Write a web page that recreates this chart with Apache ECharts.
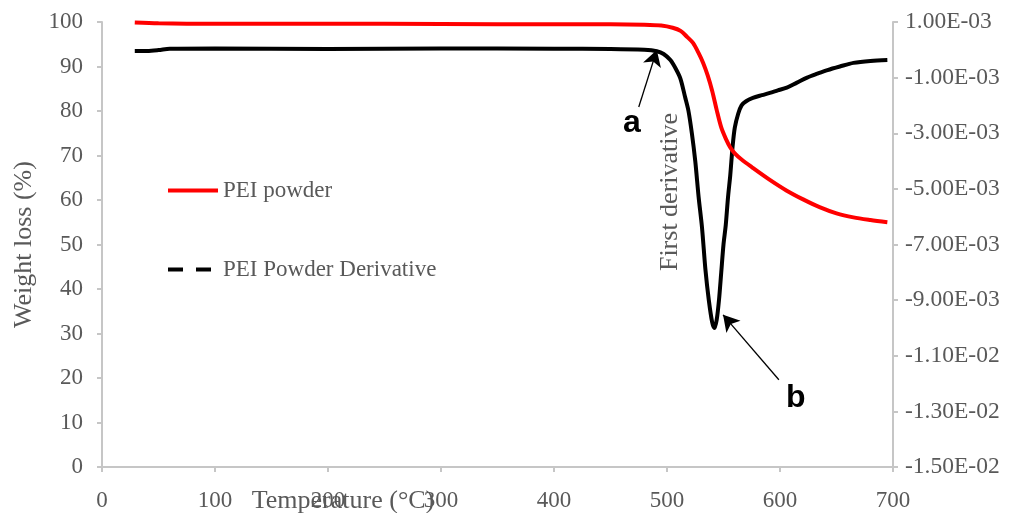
<!DOCTYPE html>
<html>
<head>
<meta charset="utf-8">
<script src="https://cdn.jsdelivr.net/npm/echarts@6/dist/echarts.min.js"></script>
<style>html,body{margin:0;padding:0;background:#fff}#c{width:1014px;height:513px}</style>
</head>
<body>
<div id="c"></div>
<script>
// Temperature (°C) samples for the weight-loss curve
const tempWeight = [29, 50, 100, 200, 300, 400, 450, 480, 495, 505, 512, 518, 523, 528, 532, 536, 540, 544, 548, 552, 556, 560, 566, 575, 590, 606, 620, 635, 650, 665, 680, 695];
// Weight loss (%) values
const weightPct = [99.9, 99.7, 99.6, 99.6, 99.55, 99.5, 99.5, 99.4, 99.2, 98.7, 98.0, 96.6, 95.3, 93.0, 90.8, 88.0, 84.5, 80.2, 76.3, 73.8, 71.8, 70.5, 69.1, 67.4, 64.7, 62.1, 60.2, 58.4, 57.0, 56.1, 55.5, 55.0];
// Temperature samples for the derivative curve
const tempDeriv = [29, 40, 50, 60, 100, 200, 300, 400, 450, 480, 491, 497, 503, 508, 512, 516, 519, 522, 525, 528, 531, 534, 537, 540, 542, 544, 546, 548, 550, 552, 554, 556, 558, 560, 563, 566, 570, 576, 584, 591, 598, 606, 615, 624, 633, 642, 653, 665, 680, 695];
// First derivative values
const derivVals = [-0.00004, -0.00004, -0.00001, 0.00004, 0.00005, 0.00003, 0.00005, 0.00004, 0.00003, 0.0, -0.00005, -0.00015, -0.00037, -0.0007, -0.00105, -0.0017, -0.0022, -0.0030, -0.0040, -0.0053, -0.0064, -0.0079, -0.0090, -0.0098, -0.0100, -0.0097, -0.0090, -0.0080, -0.0070, -0.0063, -0.0053, -0.0045, -0.0035, -0.0028, -0.0023, -0.0020, -0.00185, -0.00173, -0.00163, -0.00155, -0.00146, -0.00136, -0.00118, -0.00100, -0.00086, -0.00073, -0.0006, -0.00047, -0.0004, -0.00037];
const seriesNames = ['PEI powder', 'PEI Powder Derivative'];
// annotation arrows: [tailT, tailW, headT, headW] in weight-axis units
const arrowA = [475, 80.9, 491, 93.7];
const arrowB = [599, 19.6, 549.6, 34.2];
const labelA = [469, 77.3];
const labelB = [614, 15.5];

const serif = 'Liberation Serif';
const grey = '#595959';
const axisGrey = '#c6c6c6';

function sci(v) {
  const s = Number(v).toExponential(2);
  const parts = s.split('e');
  let exp = parseInt(parts[1], 10);
  const sign = exp < 0 ? '-' : '+';
  exp = Math.abs(exp);
  return parts[0] + 'E' + sign + (exp < 10 ? '0' + exp : '' + exp);
}

const chart = echarts.init(document.getElementById('c'));
chart.setOption({
  animation: false,
  backgroundColor: '#fff',
  grid: { left: 102, right: 121, top: 22, bottom: 46, containLabel: false },
  legend: {
    data: [
      { name: seriesNames[0], icon: 'rect' },
      { name: seriesNames[1], icon: 'path://M0,0h15v4h-15z M28,0h15v4h-15z M50,0v4' }
    ],
    orient: 'vertical',
    left: 163,
    top: 174,
    itemWidth: 50,
    itemHeight: 4,
    itemGap: 56,
    textStyle: { fontFamily: serif, fontSize: 23, color: grey, lineHeight: 20 }
  },
  xAxis: {
    type: 'value', min: 0, max: 700, interval: 100,
    axisLine: { lineStyle: { color: axisGrey, width: 2 } },
    axisTick: { show: true, length: 5, lineStyle: { color: axisGrey, width: 2 } },
    splitLine: { show: false },
    axisLabel: { fontFamily: serif, fontSize: 23, color: grey, margin: 22 }
  },
  yAxis: [
    {
      type: 'value', min: 0, max: 100, interval: 10, position: 'left',
      name: 'Weight loss (%)', nameLocation: 'middle', nameGap: 62,
      nameTextStyle: { fontFamily: serif, fontSize: 26, color: grey },
      axisLine: { show: true, lineStyle: { color: axisGrey, width: 2 } },
      axisTick: { show: true, length: 5, lineStyle: { color: axisGrey, width: 2 } },
      splitLine: { show: false },
      axisLabel: { fontFamily: serif, fontSize: 23, color: grey, margin: 19 }
    },
    {
      type: 'value', min: -0.015, max: 0.001, interval: 0.002, position: 'right',
      axisLine: { show: true, lineStyle: { color: axisGrey, width: 2 } },
      axisTick: { show: true, length: 5, lineStyle: { color: axisGrey, width: 2 } },
      splitLine: { show: false },
      axisLabel: { fontFamily: serif, fontSize: 23.5, color: grey, margin: 12, formatter: sci }
    }
  ],
  graphic: [
    { type: 'text', x: 670, y: 192, rotation: Math.PI / 2,
      style: { text: 'First derivative', font: '26px "Liberation Serif"', fill: grey, align: 'center', verticalAlign: 'middle' } },
    { type: 'text', x: 343, y: 501,
      style: { text: 'Temperature (°C)', font: '26px "Liberation Serif"', fill: grey, align: 'center', verticalAlign: 'middle' } }
  ],
  series: [
    {
      name: seriesNames[0], type: 'line', yAxisIndex: 0,
      data: tempWeight.map((t, i) => [t, weightPct[i]]),
      showSymbol: false, smooth: 0.3,
      color: '#ff0000', lineStyle: { color: '#ff0000', width: 4 },
      markLine: {
        silent: true, symbol: ['none', 'arrow'], symbolSize: [14, 16],
        label: { show: false },
        lineStyle: { color: '#000', width: 1.3, type: 'solid' },
        data: [
          [{ coord: [arrowA[0], arrowA[1]] }, { coord: [arrowA[2], arrowA[3]] }],
          [{ coord: [arrowB[0], arrowB[1]] }, { coord: [arrowB[2], arrowB[3]] }]
        ]
      },
      markPoint: {
        silent: true, symbol: 'circle', symbolSize: 0,
        label: { show: true, position: 'inside', color: '#000', fontFamily: 'Liberation Sans', fontWeight: 'bold', fontSize: 32, formatter: p => p.name },
        data: [
          { name: 'a', coord: labelA },
          { name: 'b', coord: labelB }
        ]
      },
      z: 3
    },
    {
      name: seriesNames[1], type: 'line', yAxisIndex: 1,
      data: tempDeriv.map((t, i) => [t, derivVals[i]]),
      showSymbol: false, smooth: 0.3,
      color: '#000000', lineStyle: { color: '#000000', width: 4 },
      z: 2
    }
  ]
});
</script>
</body>
</html>
